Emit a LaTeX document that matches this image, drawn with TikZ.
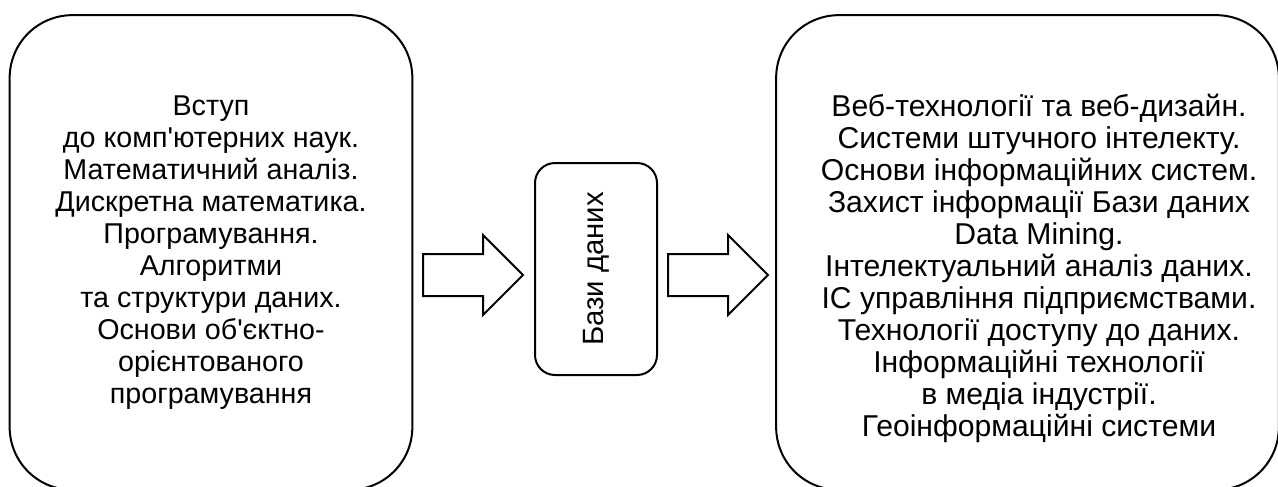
\documentclass[tikz,border=0pt]{standalone}
\usepackage{fontspec}
\setmainfont{Liberation Sans}
\usetikzlibrary{shapes.arrows}
\tikzset{>=latex}
\tikzset{
  course/.style={draw, line width=1.5pt, rounded corners=47pt, minimum width=302pt,
    minimum height=356pt, inner sep=0pt},
  courselist/.style={align=center, inner sep=0pt, font=\fontsize{21.5}{24}\selectfont},
  dbbox/.style={draw, line width=1.5pt, rounded corners=15pt, rotate=90, minimum width=159pt,
    minimum height=91.5pt, font=\fontsize{22}{24}\selectfont},
  bigarrow/.style={draw, line width=1.5pt, single arrow, single arrow head extend=14.25pt,
    single arrow head indent=0pt, minimum height=75pt, inner xsep=0pt, inner ysep=15pt,
    anchor=tail}
}

\begin{document}
\begin{tikzpicture}[x=0.75pt, y=-0.75pt]
\useasboundingbox (0,0) rectangle (1278,486);
\clip (0,0) rectangle (1278,486);
% left block and its courses
\node[course] (before) at (211, 252.5) {};
\node[courselist] (beforelist) at (211, 252.5) {Вступ\\до комп\textquotesingle ютерних наук.\\Математичний аналіз.\\Дискретна математика.\\Програмування.\\Алгоритми\\та структури даних.\\Основи об\textquotesingle єктно-\\орієнтованого\\програмування};
\node[dbbox] (db) at (596, 269) {Бази даних};
% right block and its courses
\node[course, minimum width=377pt] (after) at (1027.5, 252.5) {};
\node[courselist, font=\fontsize{22.6}{24}\selectfont] (afterlist) at (1039, 268) {Веб-технології та веб-дизайн.\\Системи штучного інтелекту.\\Основи інформаційних систем.\\Захист інформації Бази даних\\Data Mining.\\Інтелектуальний аналіз даних.\\ІС управління підприємствами.\\Технології доступу до даних.\\Інформаційні технології\\в медіа індустрії.\\Геоінформаційні системи};
\node[bigarrow] (arr1) at (422, 275) {};
\node[bigarrow] (arr2) at (667, 275) {};
\end{tikzpicture}
\end{document}
